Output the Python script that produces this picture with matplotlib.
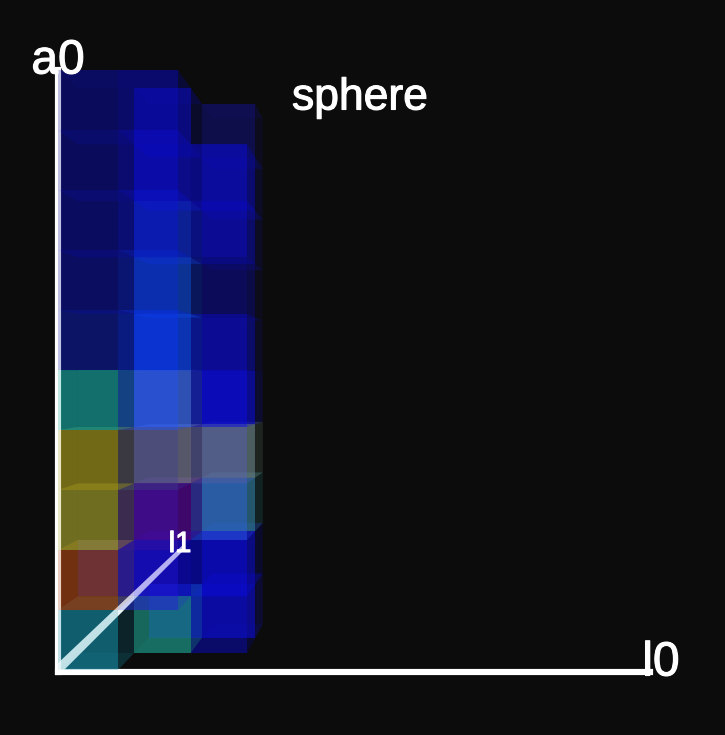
"""
sphere: transparent voxel stack with a0 / l0 / l1 axes, dark background
"""
import matplotlib
matplotlib.use('Agg')
import matplotlib.pyplot as plt
import matplotlib.patheffects as pe
from matplotlib.collections import PolyCollection
from matplotlib.colors import to_rgba

plt.rcParams['font.family'] = ['Liberation Sans', 'DejaVu Sans']

# voxel colours, index = row from the bottom, None = no voxel
col0_d0 = ['#148ca5', '#aa4614', '#a7a52d', '#aa9e1c', '#16a8a2',
           '#0c1998', '#0a0e90', '#0a0c90', '#0a0c88', '#0a0c88']
col1_d0 = [None, '#2814e6', '#3c14b4', '#3c3c96', '#1e50ff',
           '#0a32ff', '#0a28dc', '#0a14dc', '#0a0adc', '#0a0ac8']
col1_d1 = ['#1e9c8c', '#0505c5', '#5f0591', '#8c8c96', '#497bff',
           '#104eff', '#104bd2', '#1032d2', '#1010be', '#0a0aaa']
col2_d1 = ['#0a0ac6', '#0a0af0', '#3264ff', '#5a5fc8', '#0a0aff',
           '#0a0adc', '#0a0a7c', '#0a0adc', '#0a0ae9', None]
col2_d2 = ['#0f0fc8', '#0a0aaa', '#328282', '#6e8c78', '#0f0fbe',
           '#0f0f82', '#0f0f5a', '#0f0f82', '#0f0f8c', '#10106e']

layers = {(2, 2): col2_d2, (2, 1): col2_d1, (1, 1): col1_d1,
          (1, 0): col1_d0, (0, 0): col0_d0}
layer_scale = {(1, 0): 0.7, (2, 1): 0.7}

# a few boxes have a blue back wall
back_colours = {(0, 0, 1): '#2020c0', (1, 1, 0): '#1030e0'}

a0_end = (0, 0, 10)
l0_end = (9.87, 0, 0)
l1_end = (0, 9.6, 0.37)

BG = '#0c0c0c'
VX, VY = 395, 378       # vanishing point
X0, Y0, CELL = 58, 670, 60
PERSP = 0.062
# back, left, bottom, top, right, front
FACE_ALPHAS = [0.1, 0.1, 0.2, 0.25, 0.1, 0.6]


def project(c, d, r):
    s = 1 / (1 + PERSP * d)
    return VX + (X0 + c * CELL - VX) * s, VY + (Y0 - r * CELL - VY) * s


def faces(c, d, r):
    pts = {}
    for i in (0, 1):
        for j in (0, 1):
            for k in (0, 1):
                pts[i, j, k] = project(c + i, d + j, r + k)
    order = [
        [(0, 1, 0), (1, 1, 0), (1, 1, 1), (0, 1, 1)],   # back
        [(0, 0, 0), (0, 1, 0), (0, 1, 1), (0, 0, 1)],   # left
        [(0, 0, 0), (1, 0, 0), (1, 1, 0), (0, 1, 0)],   # bottom
        [(0, 0, 1), (1, 0, 1), (1, 1, 1), (0, 1, 1)],   # top
        [(1, 0, 0), (1, 1, 0), (1, 1, 1), (1, 0, 1)],   # right
        [(0, 0, 0), (1, 0, 0), (1, 0, 1), (0, 0, 1)],   # front
    ]
    return [[pts[p] for p in f] for f in order]


fig = plt.figure(figsize=(7.25, 7.35), dpi=100, facecolor=BG)
ax = fig.add_axes([0, 0, 1, 1], facecolor=BG)
ax.set_xlim(0, 725)
ax.set_ylim(735, 0)
ax.axis('off')

# axes lines go under the boxes, a paler copy on top gives the tint
ox, oy = project(0, 0, 0)
ax_x, ax_y = project(*a0_end)
lx, ly = project(*l0_end)
for zo, al in ((1, 1), (5, 0.6)):
    ax.plot([ox, ax_x], [oy + 2, ax_y], color='white', lw=4.4, alpha=al,
            solid_capstyle='projecting', zorder=zo)
    ax.plot([ox, lx], [oy + 2, ly + 2], color='white', lw=4.4, alpha=al,
            solid_capstyle='projecting', zorder=zo)

# l1 gets thinner going away from the viewer
ex, ey = project(*l1_end)
l1_poly = [(ox + 4, oy + 2), (ox - 3, oy - 4), (ex - 1.5, ey - 1.5), (ex + 1.5, ey + 1.5)]
ax.fill(*zip(*l1_poly), color='white', lw=0, zorder=1)
ax.fill(*zip(*l1_poly), color='white', lw=0, alpha=0.6, zorder=5)

# back to front so the alpha stacks up the right way
z = 2
for (c, d), colours in layers.items():
    scale = layer_scale.get((c, d), 1)
    for r, colour in enumerate(colours):
        if colour is None:
            continue
        rgba = [to_rgba(colour, a * scale) for a in FACE_ALPHAS]
        if (c, d, r) in back_colours:
            rgba[0] = to_rgba(back_colours[c, d, r], 0.5)
        pc = PolyCollection(faces(c, d, r), facecolors=rgba, edgecolors='none', zorder=z)
        ax.add_collection(pc)
    z += 0.01

bold = [pe.withStroke(linewidth=0.8, foreground='white')]
ax.text(58, 61, 'a0', color='white', fontsize=34.5, ha='center', va='center', zorder=6, path_effects=bold)
ax.text(661, 663, 'l0', color='white', fontsize=34.5, ha='center', va='center', zorder=6, path_effects=bold)
ax.text(180, 544, 'l1', color='white', fontsize=21, ha='center', va='center', zorder=6, path_effects=bold)
ax.text(360, 98, 'sphere', color='white', fontsize=32, ha='center', va='center', zorder=6, path_effects=bold)

fig.savefig('out.png', dpi=100, facecolor=BG)
